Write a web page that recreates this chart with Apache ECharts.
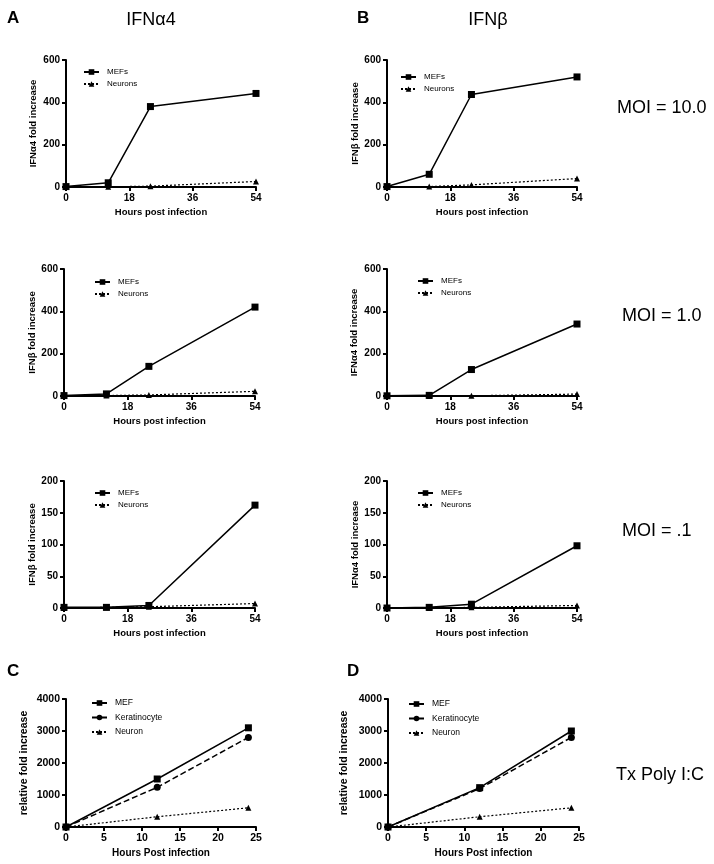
<!DOCTYPE html>
<html>
<head>
<meta charset="utf-8">
<script src="https://cdn.jsdelivr.net/npm/echarts@6/dist/echarts.min.js"></script>
<style>
html,body{margin:0;padding:0;background:#fff;}
#chart{width:714px;height:864px;}
</style>
</head>
<body>
<div id="chart"></div>
<script>
// ---- Data ----
const hoursInfection = [0, 12, 24, 54];
const hoursPolyIC = [0, 12, 24];
const xTicksInfection = [0, 18, 36, 54];
const xTicksPolyIC = [0, 5, 10, 15, 20, 25];

// Panel A: IFNα4, MOI = 10.0
const mefA_moi10 = [2, 20, 380, 442];
const neuA_moi10 = [0, 1, 4, 26];
// Panel B: IFNβ, MOI = 10.0
const mefB_moi10 = [2, 60, 437, 520];
const neuB_moi10 = [0, 2, 10, 40];
// MOI = 1.0
const mefL_moi1 = [2, 10, 140, 420];
const neuL_moi1 = [0, 2, 5, 22];
const mefR_moi1 = [1, 3, 125, 340];
const neuR_moi1 = [0, 0, 1, 9];
// MOI = .1
const mefL_moi01 = [1, 1, 4, 162];
const neuL_moi01 = [0, 1, 2, 7];
const mefR_moi01 = [0, 1, 6, 98];
const neuR_moi01 = [0, 0, 1, 4];
// Tx Poly I:C
const mefC = [0, 1500, 3100];
const kerC = [0, 1240, 2800];
const neuC = [0, 320, 600];
const mefD = [0, 1230, 3000];
const kerD = [0, 1200, 2800];
const neuD = [0, 320, 600];

const FONT = '"Liberation Sans", Arial, sans-serif';

// ---- Panel definitions (layout) ----
const panels = [
  {grid:{left:66,top:60,width:190,height:127}, ymax:600, yint:200, yname:'IFNα4 fold increase', ygap:28, poly:false,
   series:[['MEFs',mefA_moi10],['Neurons',neuA_moi10]], legend:{left:83,top:67}},
  {grid:{left:387,top:60,width:190,height:127}, ymax:600, yint:200, yname:'IFNβ fold increase', ygap:27, poly:false,
   series:[['MEFs',mefB_moi10],['Neurons',neuB_moi10]], legend:{left:400,top:72}},
  {grid:{left:64,top:269,width:191,height:127}, ymax:600, yint:200, yname:'IFNβ fold increase', ygap:22, poly:false,
   series:[['MEFs',mefL_moi1],['Neurons',neuL_moi1]], legend:{left:94,top:277}},
  {grid:{left:387,top:269,width:190,height:127}, ymax:600, yint:200, yname:'IFNα4 fold increase', ygap:28, poly:false,
   series:[['MEFs',mefR_moi1],['Neurons',neuR_moi1]], legend:{left:417,top:276}},
  {grid:{left:64,top:481,width:191,height:127}, ymax:200, yint:50, yname:'IFNβ fold increase', ygap:22, poly:false,
   series:[['MEFs',mefL_moi01],['Neurons',neuL_moi01]], legend:{left:94,top:488}},
  {grid:{left:387,top:481,width:190,height:127}, ymax:200, yint:50, yname:'IFNα4 fold increase', ygap:27, poly:false,
   series:[['MEFs',mefR_moi01],['Neurons',neuR_moi01]], legend:{left:417,top:488}},
  {grid:{left:66,top:699,width:190,height:128}, ymax:4000, yint:1000, yname:'relative fold increase', ygap:36, poly:true,
   series:[['MEF',mefC],['Keratinocyte',kerC],['Neuron',neuC]], legend:{left:91,top:698}},
  {grid:{left:388,top:699,width:191,height:128}, ymax:4000, yint:1000, yname:'relative fold increase', ygap:38, poly:true,
   series:[['MEF',mefD],['Keratinocyte',kerD],['Neuron',neuD]], legend:{left:408,top:699}}
];

function styleFor(name){
  if (name.startsWith('MEF')) return {symbol:'rect', symbolSize:7, lineStyle:{color:'#000',width:1.5,type:'solid'}};
  if (name === 'Keratinocyte') return {symbol:'circle', symbolSize:7, lineStyle:{color:'#000',width:1.5,type:[6,3]}};
  return {symbol:'triangle', symbolSize:6, lineStyle:{color:'#000',width:1.2,type:[2,2]}};
}

const grids=[], xAxes=[], yAxes=[], series=[], legends=[];
panels.forEach((p,i)=>{
  grids.push(p.grid);
  const xs = p.poly ? hoursPolyIC : hoursInfection;
  const xt = p.poly ? xTicksPolyIC : xTicksInfection;
  const fs = p.poly ? 10 : 9.5;
  xAxes.push({
    gridIndex:i, type:'value', min:xt[0], max:xt[xt.length-1], interval:xt[1]-xt[0],
    axisLine:{show:true,onZero:false,lineStyle:{color:'#000',width:2}},
    axisTick:{show:true,length:4,lineStyle:{color:'#000',width:2}},
    axisLabel:{color:'#000',fontWeight:'bold',fontSize:fs+0.5,fontFamily:FONT,margin:6,formatter:v=>String(v)},
    splitLine:{show:false},
    name: p.poly ? 'Hours Post infection' : 'Hours post infection',
    nameLocation:'middle', nameGap:p.poly?21:20,
    nameTextStyle:{color:'#000',fontWeight:'bold',fontSize:fs,fontFamily:FONT}
  });
  yAxes.push({
    gridIndex:i, type:'value', min:0, max:p.ymax, interval:p.yint,
    axisLine:{show:true,lineStyle:{color:'#000',width:2}},
    axisTick:{show:true,length:4,lineStyle:{color:'#000',width:2}},
    axisLabel:{color:'#000',fontWeight:'bold',fontSize:fs+0.5,fontFamily:FONT,margin:6,formatter:v=>String(v)},
    splitLine:{show:false},
    name:p.yname, nameLocation:'middle', nameGap:p.ygap,
    nameTextStyle:{color:'#000',fontWeight:'bold',fontSize:p.poly?10.5:9.5,fontFamily:FONT}
  });
  const names=[];
  p.series.forEach(([name,vals])=>{
    names.push(name);
    const st = styleFor(name);
    series.push({
      type:'line', name:name, xAxisIndex:i, yAxisIndex:i,
      data: xs.map((x,k)=>[x,vals[k]]),
      symbol:st.symbol, symbolSize:st.symbolSize,
      itemStyle:{color:'#000'}, lineStyle:st.lineStyle,
      clip:false, animation:false, z:3
    });
  });
  legends.push({
    data:names, orient:'vertical', left:p.legend.left, top:p.legend.top,
    itemWidth:15, itemHeight:7, itemGap:p.poly?4.5:2, padding:0,
    selectedMode:false,
    textStyle:{color:'#000',fontSize:p.poly?8.5:8,lineHeight:10,fontFamily:FONT,padding:[0,0,0,3]}
  });
});

const txt=(x,y,t,size,bold,align)=>({type:'text',x:x,y:y,
  style:{text:t,fill:'#000',font:(bold?'bold ':'')+size+'px '+FONT,textAlign:align||'left',textVerticalAlign:'middle'}});

const graphics=[
  txt(7,18,'A',17,true), txt(357,18,'B',17,true), txt(7,671,'C',17,true), txt(347,671,'D',17,true),
  txt(151,20,'IFNα4',18,false,'center'), txt(488,20,'IFNβ',18,false,'center'),
  txt(617,108,'MOI = 10.0',18,false), txt(622,316,'MOI = 1.0',18,false),
  txt(622,531,'MOI = .1',18,false), txt(616,775,'Tx Poly I:C',18,false)
];

const chart = echarts.init(document.getElementById('chart'), null, {renderer:'canvas'});
chart.setOption({
  backgroundColor:'#fff', animation:false,
  grid:grids, xAxis:xAxes, yAxis:yAxes, series:series, legend:legends,
  graphic:graphics
});
</script>
</body>
</html>
